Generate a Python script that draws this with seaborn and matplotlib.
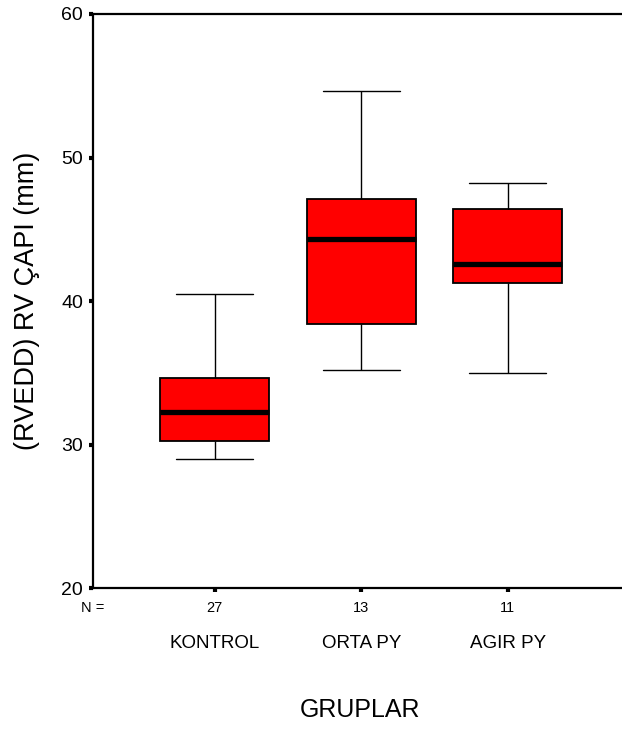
import matplotlib
matplotlib.use("Agg")
import matplotlib.pyplot as plt
import numpy as np
import pandas as pd
import seaborn as sns

sns.set_style("ticks")
plt.rcParams["font.family"] = ["Liberation Sans", "DejaVu Sans"]
plt.rcParams["text.color"] = "black"
plt.rcParams["axes.labelcolor"] = "black"
plt.rcParams["xtick.color"] = "black"
plt.rcParams["ytick.color"] = "black"

# five-number summaries: min, q1, median, q3, max
GROUPS = ["KONTROL", "ORTA PY", "AGIR PY"]
N_COUNTS = [27, 13, 11]
KONTROL = [29.0, 30.25, 32.25, 34.65, 40.5]
ORTA_PY = [35.2, 38.4, 44.3, 47.1, 54.6]
AGIR_PY = [34.95, 41.25, 42.6, 46.4, 48.2]
Y_TICKS = [20, 30, 40, 50, 60]

df = pd.DataFrame({
    "grup": np.repeat(GROUPS, 5),
    "rvedd": KONTROL + ORTA_PY + AGIR_PY,
})

fig = plt.figure(figsize=(6.22, 7.29), dpi=100)
ax = fig.add_axes([0.149, 0.1934, 0.851, 0.7874])

sns.boxplot(
    data=df, x="grup", y="rvedd", order=GROUPS, ax=ax,
    color="#ff0000", saturation=1, linecolor="black", width=0.745,
    whis=np.inf, showfliers=False,
    boxprops={"linewidth": 1.3},
    medianprops={"linewidth": 3.8, "color": "black"},
    whiskerprops={"linewidth": 1.0},
    capprops={"linewidth": 1.0},
    capwidths=0.525,
)

ax.set_xlim(-0.833, 2.78)
ax.set_ylim(20, 60)
ax.set_yticks(Y_TICKS)
ax.tick_params(axis="y", labelsize=14, length=3, width=3, pad=4)
ax.tick_params(axis="x", labelsize=13.5, length=3, width=3, pad=31)

for side in ["left", "top", "bottom"]:
    ax.spines[side].set_linewidth(1.6)
    ax.spines[side].set_color("black")
ax.spines["right"].set_visible(False)

# N = row under the axis
trans = matplotlib.transforms.blended_transform_factory(ax.transData, ax.transAxes)
ax.text(0, -0.035, "N =", transform=ax.transAxes, ha="center", va="center",
        fontsize=10.5)
for i, n in enumerate(N_COUNTS):
    ax.text(i, -0.035, str(n), transform=trans, ha="center", va="center",
            fontsize=10.5)

ax.set_xlabel("GRUPLAR", fontsize=18)
ax.xaxis.set_label_coords(0.505, -0.2125)
ax.xaxis.label.set_va("center")
ax.set_ylabel("(RVEDD) RV ÇAPI (mm)", fontsize=19.5)
ax.yaxis.set_label_coords(-0.124, 0.5)
ax.yaxis.label.set_va("center")

fig.savefig("out.png", dpi=100)
